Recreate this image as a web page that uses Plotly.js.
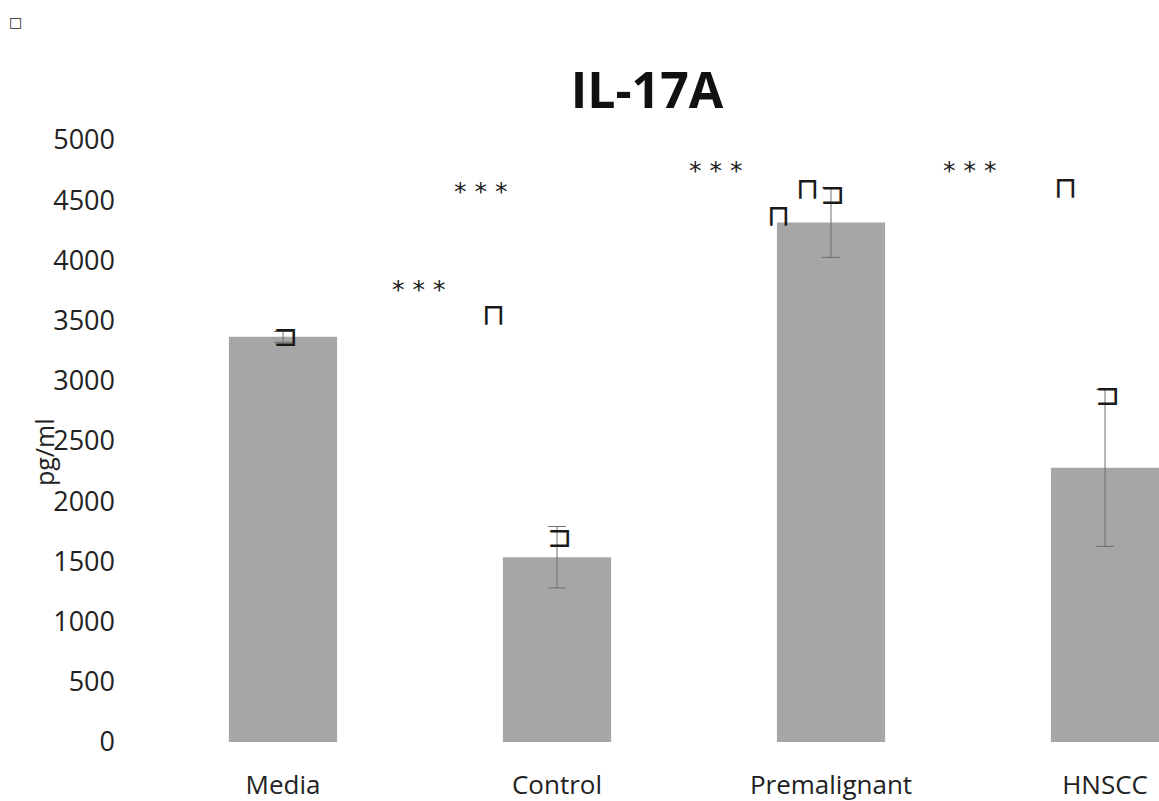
<!DOCTYPE html>
<html>
<head>
<meta charset="utf-8">
<script src="https://cdn.plot.ly/plotly-3.0.1.min.js"></script>
<style>html,body{margin:0;padding:0;background:#fff;}#chart{width:1159px;height:801px;}</style>
</head>
<body>
<div id="chart"></div>
<script>
// Data
const categories = ["Media", "Control", "Premalignant", "HNSCC"];
const values = [3365, 1535, 4315, 2277];
const errors = [45, 255, 290, 652];

// Significance stars (x as category index offsets, y in pg/ml)
const starX = [0.496, 0.719, 1.577, 2.507];
const starY = [3760, 4575, 4745, 4745];

// Bracket glyphs that appear in the figure
const capGlyphX = [0.770, 1.807, 1.914, 2.854];
const capGlyphY = [3548, 4373, 4596, 4604];
const barGlyphX = [0.01, 1.01, 2.004, 3.01];
const barGlyphY = [3380, 1711, 4556, 2890];

const trace = {
  type: "bar",
  x: categories.map((c, i) => i),
  y: values,
  marker: {color: "#a6a6a6"},
  error_y: {type: "data", array: errors, visible: true, color: "#6e6e6e", thickness: 1, width: 9},
  width: 0.395,
  hoverinfo: "none"
};

const annotations = [];
starX.forEach((x, i) => annotations.push({
  x: x, y: starY[i], xref: "x", yref: "y", text: "* * *", showarrow: false,
  font: {family: "DejaVu Sans", size: 25, color: "#222"}
}));
capGlyphX.forEach((x, i) => annotations.push({
  x: x, y: capGlyphY[i], xref: "x", yref: "y", text: "\u2293", showarrow: false,
  font: {family: "DejaVu Sans", size: 30, color: "#1a1a1a"}
}));
barGlyphX.forEach((x, i) => annotations.push({
  x: x, y: barGlyphY[i], xref: "x", yref: "y", text: "\u2290", showarrow: false,
  font: {family: "DejaVu Sans", size: 30, color: "#1a1a1a"}
}));
annotations.push({
  x: -(146 - 44) / 1013, y: (742 - 452) / 602, xref: "paper", yref: "paper",
  text: "pg/ml", textangle: -90, showarrow: false, xanchor: "center", yanchor: "middle",
  font: {family: "Open Sans", size: 25, color: "#222"}
});
annotations.push({
  x: -(146 - 15) / 1013, y: (742 - 22) / 602, xref: "paper", yref: "paper",
  text: "<b>\u25A1</b>", showarrow: false, xanchor: "center", yanchor: "middle",
  font: {family: "DejaVu Sans", size: 14, color: "#222"}
});

const layout = {
  width: 1159, height: 801,
  margin: {l: 146, r: 0, t: 140, b: 59},
  paper_bgcolor: "#ffffff", plot_bgcolor: "#ffffff",
  showlegend: false,
  title: {text: "<b>IL-17A</b>", x: 647 / 1159, xanchor: "center", y: 1 - 90 / 801, yanchor: "middle",
          font: {family: "Open Sans", size: 50, color: "#111"}},
  xaxis: {
    range: [-0.5, 3.197], tickmode: "array", tickvals: [0, 1, 2, 3], ticktext: categories,
    showgrid: false, zeroline: false, showline: false, ticks: "",
    tickfont: {family: "Open Sans", size: 26, color: "#222"}, ticklabelstandoff: 25
  },
  yaxis: {
    range: [0, 5000], tickvals: [0, 500, 1000, 1500, 2000, 2500, 3000, 3500, 4000, 4500, 5000],
    showgrid: false, zeroline: false, showline: false, ticks: "",
    tickfont: {family: "Open Sans", size: 27, color: "#222"}, ticklabelstandoff: 30
  },
  annotations: annotations
};

Plotly.newPlot("chart", [trace], layout, {displayModeBar: false, staticPlot: true});
</script>
</body>
</html>
